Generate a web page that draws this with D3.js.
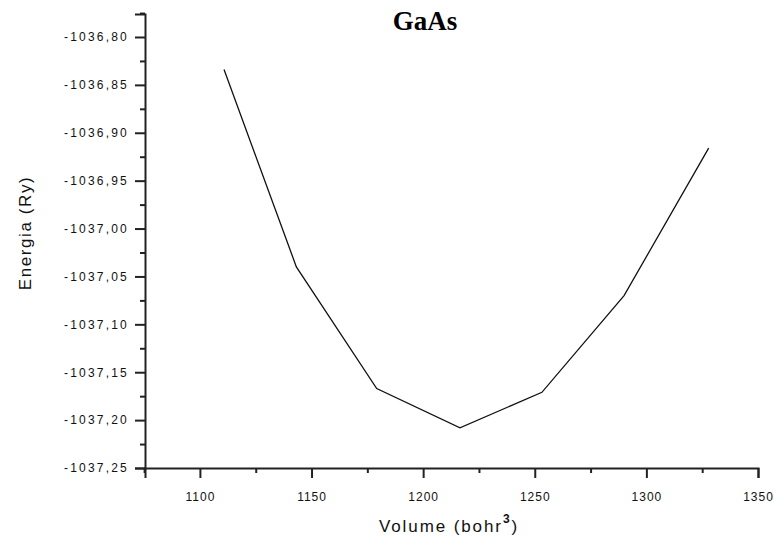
<!DOCTYPE html>
<html>
<head>
<meta charset="utf-8">
<script src="https://cdn.jsdelivr.net/npm/d3@7"></script>
<style>
  html, body { margin: 0; padding: 0; background: #fff; }
  svg { display: block; }
</style>
</head>
<body>
<svg id="chart" width="774" height="538"></svg>
<script>
// Total energy of GaAs vs. cell volume
const volume = [1110.8, 1143.2, 1179.2, 1216.5, 1253.2, 1290.0, 1327.9];
const energy = [-1036.834, -1037.040, -1037.167, -1037.208, -1037.171, -1037.070, -1036.916];

const xMajorTicks = [1100, 1150, 1200, 1250, 1300, 1350];
const xMinorTicks = [1075, 1125, 1175, 1225, 1275, 1325];
const yMajorTicks = [-1037.25, -1037.20, -1037.15, -1037.10, -1037.05, -1037.00,
                     -1036.95, -1036.90, -1036.85, -1036.80];
const yMinorTicks = [-1037.225, -1037.175, -1037.125, -1037.075, -1037.025,
                     -1036.975, -1036.925, -1036.875, -1036.825, -1036.775];

const svg = d3.select("#chart");
const plotLeft = 145, plotRight = 758, plotTop = 14, plotBottom = 468;

const x = d3.scaleLinear().domain([1075.4, 1350]).range([plotLeft, plotRight]);
const y = d3.scaleLinear().domain([-1037.25, -1036.776]).range([plotBottom, plotTop]);

const fmtY = v => v.toFixed(2).replace(".", ",");
const axisColor = "#222";
const labelFont = "'Liberation Sans', Arial, sans-serif";

// y axis: major ticks with labels, minor ticks without
const yAxis = svg.append("g").attr("transform", `translate(${plotLeft},0)`);
yAxis.call(d3.axisLeft(y).tickValues(yMajorTicks).tickFormat(fmtY).tickSize(10).tickPadding(6));
const yMinor = yAxis.append("g").call(d3.axisLeft(y).tickValues(yMinorTicks).tickFormat("").tickSize(5));
yMinor.select(".domain").remove();
yAxis.selectAll(".tick text").style("letter-spacing", "2.2px");

// x axis
const xAxis = svg.append("g").attr("transform", `translate(0,${plotBottom})`);
xAxis.call(d3.axisBottom(x).tickValues(xMajorTicks).tickFormat(d3.format("d")).tickSize(10).tickPadding(14));
const xMinor = xAxis.append("g").call(d3.axisBottom(x).tickValues(xMinorTicks).tickFormat("").tickSize(5));
xMinor.select(".domain").remove();
xAxis.selectAll(".tick text").style("letter-spacing", "1px");

svg.selectAll(".domain").attr("stroke", axisColor).attr("stroke-width", 2);
svg.selectAll(".tick line").attr("stroke", axisColor).attr("stroke-width", 2);
svg.selectAll(".tick text")
  .attr("fill", "#111")
  .style("font-family", labelFont)
  .style("font-size", "12px");

// curve
const line = d3.line().x((d, i) => x(volume[i])).y(d => y(d));
svg.append("path")
  .datum(energy)
  .attr("fill", "none")
  .attr("stroke", "#111")
  .attr("stroke-width", 1.3)
  .attr("d", line);

// title
svg.append("text")
  .attr("x", 425).attr("y", 30)
  .attr("text-anchor", "middle")
  .style("font-family", "'Liberation Serif', 'Times New Roman', serif")
  .style("font-weight", "bold")
  .style("font-size", "27px")
  .text("GaAs");

// axis titles
svg.append("text")
  .attr("transform", "translate(31,233) rotate(-90)")
  .attr("text-anchor", "middle")
  .attr("fill", "#111")
  .style("font-family", labelFont)
  .style("font-size", "17px")
  .style("letter-spacing", "1.6px")
  .text("Energia (Ry)");

const xt = svg.append("text")
  .attr("x", 449).attr("y", 532)
  .attr("text-anchor", "middle")
  .attr("fill", "#111")
  .style("font-family", labelFont)
  .style("font-size", "17px")
  .style("letter-spacing", "1.9px");
xt.append("tspan").text("Volume (bohr");
xt.append("tspan").attr("dy", -9).style("font-size", "12px").style("font-weight", "bold").text("3");
xt.append("tspan").attr("dy", 9).text(")");
</script>
</body>
</html>
